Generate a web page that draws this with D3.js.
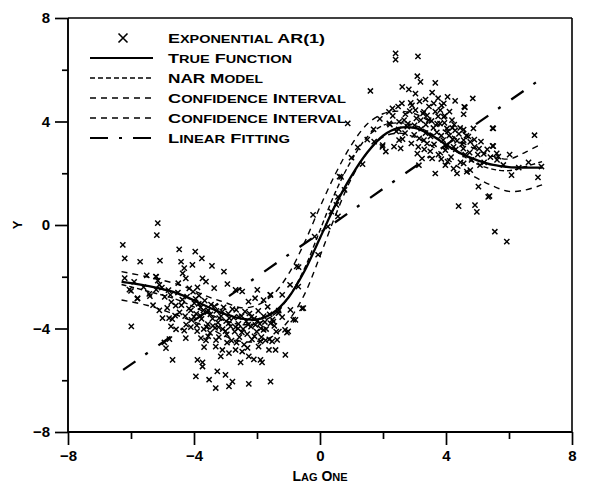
<!DOCTYPE html>
<html><head><meta charset="utf-8">
<script src="https://cdn.jsdelivr.net/npm/d3@7"></script>
<style>
html,body{margin:0;padding:0;background:#fff;}
svg text{font-family:"Liberation Sans",Arial,sans-serif;font-weight:bold;fill:#000;}
</style></head>
<body><svg id="c" width="604" height="484"></svg>
<script>
// ---- data ----
const xTicks = [-8, -4, 0, 4, 8];
const yTicks = [-8, -4, 0, 4, 8];
const minorTicks = [-6, -2, 2, 6];
const legendLabels = ["Exponential AR(1)", "True Function", "NAR Model", "Confidence Interval", "Confidence Interval", "Linear Fitting"];
const curveX     = [-6.3, -5.5, -4.5, -3.5, -3, -2.5, -2, -1.5, -1, -0.5, 0, 0.5, 1, 1.5, 2, 2.5, 3, 3.5, 4, 4.5, 5, 5.5, 6, 6.5, 7.05];
const trueY      = [-2.2, -2.35, -2.65, -3.2, -3.45, -3.62, -3.65, -3.4, -2.8, -1.8, -0.5, 0.8, 1.9, 2.8, 3.45, 3.75, 3.75, 3.5, 3.1, 2.75, 2.5, 2.32, 2.24, 2.22, 2.22];
const narY       = [-2.3, -2.55, -2.9, -3.45, -3.7, -3.85, -3.8, -3.5, -2.8, -1.7, -0.2, 1.3, 2.5, 3.4, 3.85, 3.95, 3.85, 3.55, 3.1, 2.7, 2.35, 2.15, 2.1, 2.25, 2.45];
const upperY     = [-1.8, -2.0, -2.3, -2.8, -3.0, -3.2, -3.1, -2.7, -1.9, -0.7, 0.7, 2.0, 3.1, 3.9, 4.3, 4.4, 4.3, 4.0, 3.6, 3.2, 2.9, 2.65, 2.55, 2.8, 3.15];
const lowerY     = [-2.9, -3.1, -3.5, -4.0, -4.3, -4.5, -4.5, -4.3, -3.7, -2.7, -1.2, 0.4, 1.8, 2.8, 3.4, 3.55, 3.4, 3.1, 2.6, 2.15, 1.8, 1.5, 1.3, 1.35, 1.55];
const linearX    = [-6.25, 6.9];
const linearY    = [-5.6, 5.55];
const scatter = [
[-5.15,0.07],[-5.18,-0.39],[-6.26,-0.77],[-4.47,-0.94],[-3.96,-1.03],[-3.75,-1.29],[-6.2,-1.29],[-5.71,-1.42],[-5.08,-1.38],[-4.41,-1.42],
[-4.31,-1.67],[-4.05,-1.54],[-3.43,-1.58],[-3.05,-1.8],[-4.36,-1.87],[-4.26,-2.06],[-5.2,-2.0],[-5.15,-2.15],[-3.73,-2.06],[-3.62,-2.19],
[-3.89,-2.41],[-3.36,-2.44],[-2.94,-2.28],[-2.68,-2.51],[-2.47,-2.57],[-1.99,-2.51],[-1.57,-2.7],[-1.2,-2.7],[-0.68,-1.63],[-5.99,-3.92],
[-4.73,-3.92],[-4.57,-4.03],[-4.31,-4.08],[-4.26,-4.37],[-3.78,-4.37],[-3.62,-4.46],[-3.68,-4.72],[-3.31,-4.7],[-3.1,-4.83],[-3.15,-5.08],
[-2.89,-4.95],[-2.68,-4.83],[-2.47,-4.89],[-2.26,-5.08],[-2.1,-5.19],[-1.89,-5.21],[-1.84,-5.31],[-1.62,-4.83],[-1.52,-4.5],[-1.36,-4.44],
[-1.05,-4.16],[-1.1,-5.02],[-1.41,-4.83],[-1.73,-4.46],[-1.89,-4.5],[-2.05,-3.86],[-1.57,-3.8],[-1.2,-3.56],[-0.94,-3.28],[-0.78,-3.67],
[-0.57,-3.22],[-4.68,-5.21],[-3.89,-5.21],[-3.73,-5.31],[-3.73,-5.47],[-2.52,-5.31],[-3.26,-5.66],[-3.0,-5.79],[-3.94,-5.85],[-3.52,-5.98],
[-3.31,-6.3],[-2.89,-6.24],[-2.78,-6.05],[-2.26,-6.14],[-1.57,-6.05],[-4.89,-4.76],[-4.94,-4.54],[-4.78,-4.41],[-6.05,-2.5],[-5.79,-2.83],
[-5.42,-2.66],[-5.21,-1.99],[-5.1,-2.31],[-4.79,-3.6],[-4.69,-3.64],
[-5.02,-2.42],[-4.93,-2.78],[-4.81,-2.52],[-4.72,-2.98],[-4.58,-3.12],[-4.51,-2.61],[-4.46,-3.38],[-4.37,-2.88],[-4.28,-3.52],[-4.22,-2.77],
[-4.16,-3.23],[-4.08,-3.67],[-4.03,-2.58],[-3.99,-3.02],[-3.93,-3.43],[-3.91,-3.88],[-3.84,-2.73],[-3.79,-3.18],[-3.76,-3.63],[-3.69,-4.02],
[-3.66,-2.92],[-3.58,-3.37],[-3.56,-3.83],[-3.49,-4.17],[-3.46,-3.08],[-3.41,-3.62],[-3.33,-3.98],[-3.29,-3.32],[-3.24,-3.77],[-3.21,-4.33],
[-3.14,-3.52],[-3.09,-4.02],[-3.06,-3.18],[-2.98,-3.72],[-2.96,-4.23],[-2.91,-3.42],[-2.84,-3.92],[-2.81,-4.47],[-2.74,-3.58],[-2.71,-4.12],
[-2.66,-3.28],[-2.59,-3.82],[-2.56,-4.33],[-2.49,-3.52],[-2.44,-4.02],[-2.41,-4.62],[-2.34,-3.72],[-2.31,-4.22],[-2.24,-3.42],[-2.19,-3.93],
[-2.16,-4.42],[-2.09,-3.62],[-2.01,-4.12],[-1.96,-3.32],[-1.91,-3.82],[-1.86,-4.33],[-1.79,-3.52],[-1.71,-4.02],[-1.66,-3.16],[-1.61,-4.42],
[-1.51,-3.66],[-1.39,-4.12],[-1.31,-3.31],[-3.55,-3.3],[-3.2,-3.6],[-2.9,-3.8],[-3.8,-3.5],[-4.1,-3.3],[-2.6,-4.0],[-3.4,-3.9],
[-6.2,-2.05],[-6.0,-2.55],[-5.9,-2.2],[-5.8,-2.85],[-5.6,-2.4],[-5.5,-1.95],[-5.4,-2.75],[-5.3,-3.1],[-5.2,-2.5],[-5.1,-3.3],[-5.0,-3.6],[-4.85,-3.2],
[-4.6,-3.5],[-4.4,-3.1],[-4.25,-3.85],[-4.0,-3.55],[-3.85,-3.05],[-3.7,-3.3],[-3.6,-3.95],[-3.48,-3.45],[-3.35,-3.15],[-3.22,-3.95],
[-3.1,-3.35],[-3.0,-4.1],[-2.88,-3.6],[-2.78,-3.25],[-2.68,-3.95],[-2.58,-3.55],[-2.48,-4.15],[-2.38,-3.35],[-2.28,-3.85],[-2.18,-3.55],
[-2.08,-4.3],[-1.98,-3.7],[-1.88,-4.0],[-1.75,-3.75],[-1.6,-3.45],[-1.45,-3.9],[-3.95,-2.85],[-4.15,-2.45],[-4.5,-2.25],[-4.75,-2.7],
[-3.3,-4.45],[-2.95,-4.55],[-2.65,-4.55],[-2.3,-4.75],[-1.95,-4.7],[-3.55,-4.3],[-3.9,-4.1],[-4.1,-3.95],
[2.3,4.51],[2.2,3.93],[1.99,3.09],[2.09,2.84],[2.35,3.03],[1.72,3.22],[0.88,3.93],[0.62,1.87],[0.78,1.36],[0.52,0.78],
[0.36,0.52],[0.57,0.33],[-0.22,0.39],[0.25,-0.06],[-0.17,-0.45],[-0.06,-1.15],[-0.74,-1.6],[-0.95,-2.31],[-0.69,-2.38],[-0.53,-3.21],
[-0.85,-3.66],[-1.11,-4.05],[-1.01,-4.11],[-1.58,-2.7],[-1.79,-2.9],[-2.06,-2.83],[-2.27,-2.96],[-1.32,-3.41],[-1.48,-3.73],[-1.79,-4.05],
[0.67,1.86],[0.57,1.09],[1.0,2.6],[1.5,3.3],[1.7,3.7],[1.9,4.1],[1.2,3.0],[1.35,2.35],[1.6,5.18],
[2.40,6.63],[2.40,6.39],[3.11,6.52],[3.09,5.75],[3.19,5.53],[3.66,5.49],[2.61,5.34],[2.82,5.24],[3.03,5.08],[3.56,5.12],
[2.88,4.72],[3.61,4.7],[3.93,4.7],[4.29,4.8],[4.85,4.89],[4.58,4.57],[4.56,4.28],[2.19,4.37],[3.03,4.44],[3.3,4.37],
[3.4,4.24],[3.82,4.44],[3.93,4.18],[4.19,4.05],[2.67,4.05],[2.77,3.8],[2.51,3.99],[3.72,3.92],[4.03,3.73],[4.29,3.66],
[4.56,3.69],[4.87,3.73],[5.5,3.73],[6.81,3.47],[3.3,3.28],[3.4,3.15],[2.51,3.28],[2.56,2.96],[1.98,3.02],[3.09,2.76],
[3.24,2.57],[3.56,2.57],[3.98,2.89],[4.24,3.02],[4.56,3.28],[4.77,3.21],[5.5,3.05],[5.66,2.64],[5.08,2.31],[3.98,2.31],
[4.24,2.18],[4.56,2.38],[4.77,2.12],[4.35,1.99],[4.66,2.06],[3.66,1.99],[3.14,2.31],[6.08,1.93],[6.92,1.84],[5.03,1.48],
[5.34,1.09],[4.4,0.73],[4.92,0.77],[4.98,0.51],[5.55,-0.26],[5.93,-0.64],[4.6,4.55],[5.48,3.74],[5.48,3.06],[5.61,2.77],
[7.03,2.26],[5.38,1.12],
[2.22,3.88],[2.31,4.22],[2.42,3.62],[2.48,4.58],[2.62,3.32],[2.71,4.28],[2.79,3.92],[2.92,4.62],[2.99,3.48],[3.06,4.12],
[3.12,3.02],[3.16,4.78],[3.21,3.72],[3.27,4.31],[3.31,2.92],[3.36,3.88],[3.46,4.58],[3.51,3.42],[3.54,4.02],[3.62,3.12],
[3.66,4.38],[3.71,3.58],[3.76,2.72],[3.81,3.92],[3.86,4.62],[3.91,3.28],[3.96,4.22],[4.01,3.02],[4.06,3.62],[4.11,4.38],
[4.16,2.62],[4.21,3.32],[4.26,3.88],[4.31,2.92],[4.41,3.52],[4.46,2.42],[4.51,3.12],[4.61,2.72],[4.71,3.42],[4.81,2.52],
[4.91,3.02],[5.01,2.72],[5.11,3.22],[5.21,2.42],[5.31,2.92],[5.41,2.62],[5.62,2.52],[5.82,2.32],[6.02,2.72],[6.31,2.22],[6.62,2.42],
[2.5,3.7],[2.7,3.55],[2.85,4.4],[3.0,3.85],[3.2,4.05],[3.35,3.55],[3.45,4.05],[3.6,3.75],[3.75,4.2],[3.85,3.45],
[3.95,3.95],[4.1,3.45],[4.2,3.75],[4.35,3.25],[4.45,3.75],[4.55,2.95],[4.65,3.45],[4.75,2.8],[4.9,3.3],[5.05,2.95],
[5.2,2.75],[3.5,2.85],[3.85,2.55],[4.05,2.45],[2.9,3.15],[3.15,3.35],[2.6,4.7],[3.35,4.85],[3.75,4.9],[4.05,4.95]
];

// ---- chart ----
const svg = d3.select("#c");
const x = d3.scaleLinear().domain([-8, 8]).range([68, 572]);
const y = d3.scaleLinear().domain([-8, 8]).range([432, 18]);

function smallCaps(sel, str, big, small) {
  let buf = "", cur = null;
  const flush = () => { if (buf) sel.append("tspan").attr("font-size", cur).text(buf); buf = ""; };
  for (const ch of str) {
    const isLower = ch !== ch.toUpperCase();
    const size = isLower ? small : big;
    if (size !== cur) { flush(); cur = size; }
    buf += ch.toUpperCase();
  }
  flush();
  return sel;
}

// frame (top, right)
svg.append("line").attr("x1", x(-8)).attr("x2", x(8)).attr("y1", y(8)).attr("y2", y(8)).attr("stroke", "#000").attr("stroke-width", 1.6);
svg.append("line").attr("x1", x(8)).attr("x2", x(8)).attr("y1", y(8)).attr("y2", y(-8)).attr("stroke", "#000").attr("stroke-width", 1.6);

// axes
const xAxis = svg.append("g").attr("transform", `translate(0,${y(-8)})`)
  .call(d3.axisBottom(x).tickValues(xTicks).tickSize(13).tickFormat(d3.format("d")));
const xMinor = svg.append("g").attr("transform", `translate(0,${y(-8)})`)
  .call(d3.axisBottom(x).tickValues(minorTicks).tickSize(7).tickFormat(""));
const yAxis = svg.append("g").attr("transform", `translate(${x(-8)},0)`)
  .call(d3.axisLeft(y).tickValues(yTicks).tickSize(13).tickFormat(d3.format("d")));
const yMinor = svg.append("g").attr("transform", `translate(${x(-8)},0)`)
  .call(d3.axisLeft(y).tickValues(minorTicks).tickSize(6).tickFormat(""));
[xAxis, xMinor, yAxis, yMinor].forEach(g => {
  g.select(".domain").remove();
  g.selectAll(".tick line").attr("stroke-width", 1.7);
  g.selectAll("text").attr("font-size", 15).attr("font-family", "Liberation Sans, Arial, sans-serif").attr("font-weight", "bold");
});
svg.append("line").attr("x1", x(-8)).attr("x2", x(8)).attr("y1", y(-8)).attr("y2", y(-8)).attr("stroke", "#000").attr("stroke-width", 1.9);
svg.append("line").attr("x1", x(-8)).attr("x2", x(-8)).attr("y1", y(8)).attr("y2", y(-8)).attr("stroke", "#000").attr("stroke-width", 1.9);
xAxis.selectAll("text").attr("dy", "0.95em").attr("y", 15);
yAxis.selectAll("text").attr("x", -18);

// axis titles
smallCaps(svg.append("text").attr("x", 320).attr("y", 481).attr("text-anchor", "middle"), "Lag One", 14, 11);
svg.append("text").attr("transform", `translate(22,${y(0)}) rotate(-90)`).attr("text-anchor", "middle")
  .attr("font-size", 13).text("Y");

// curves
const lineGen = d3.line().x(d => x(d[0])).y(d => y(d[1])).curve(d3.curveCatmullRom.alpha(0.5));
const zip = ys => curveX.map((v, i) => [v, ys[i]]);
const g = svg.append("g");
g.append("path").datum(zip(upperY)).attr("d", lineGen).attr("fill", "none").attr("stroke", "#000").attr("stroke-width", 1.4).attr("stroke-dasharray", "6,5");
g.append("path").datum(zip(lowerY)).attr("d", lineGen).attr("fill", "none").attr("stroke", "#000").attr("stroke-width", 1.4).attr("stroke-dasharray", "6,5");
g.append("path").datum(zip(narY)).attr("d", lineGen).attr("fill", "none").attr("stroke", "#000").attr("stroke-width", 1.4).attr("stroke-dasharray", "5,3");
g.append("path").datum(zip(trueY)).attr("d", lineGen).attr("fill", "none").attr("stroke", "#000").attr("stroke-width", 2.3);
g.append("path").datum(linearX.map((v, i) => [v, linearY[i]])).attr("d", d3.line().x(d => x(d[0])).y(d => y(d[1])))
  .attr("fill", "none").attr("stroke", "#000").attr("stroke-width", 2.3).attr("stroke-dasharray", "15,12,3,13");

// scatter
const s = 2.6;
svg.append("g").selectAll("path").data(scatter).join("path")
  .attr("d", d => { const px = x(d[0]), py = y(d[1]); return `M${px - s},${py - s}L${px + s},${py + s}M${px - s},${py + s}L${px + s},${py - s}`; })
  .attr("stroke", "#000").attr("stroke-width", 1.45).attr("fill", "none");

// legend
const lg = svg.append("g");
const rowY = [38, 58, 78, 98, 118, 138];
const widths = [157, 124, 95, 178, 178, 122];
const dashes = [null, null, "5,3", "6,5", "6,5", "18,11,3,11"];
rowY.forEach((ry, i) => {
  if (i === 0) {
    const cx = 123, h = 4.5;
    lg.append("path").attr("d", `M${cx - h},${ry - h}L${cx + h},${ry + h}M${cx - h},${ry + h}L${cx + h},${ry - h}`).attr("stroke", "#000").attr("stroke-width", 1.6);
  } else {
    lg.append("line").attr("x1", 90).attr("x2", 153).attr("y1", ry).attr("y2", ry).attr("stroke", "#000")
      .attr("stroke-width", (i === 1 || i === 5) ? 2.2 : 1.4).attr("stroke-dasharray", dashes[i]);
  }
  const t = lg.append("text").attr("x", 168).attr("y", ry + 5)
    .attr("textLength", widths[i]).attr("lengthAdjust", "spacingAndGlyphs");
  smallCaps(t, legendLabels[i], 13, 10.5);
});
</script></body></html>
